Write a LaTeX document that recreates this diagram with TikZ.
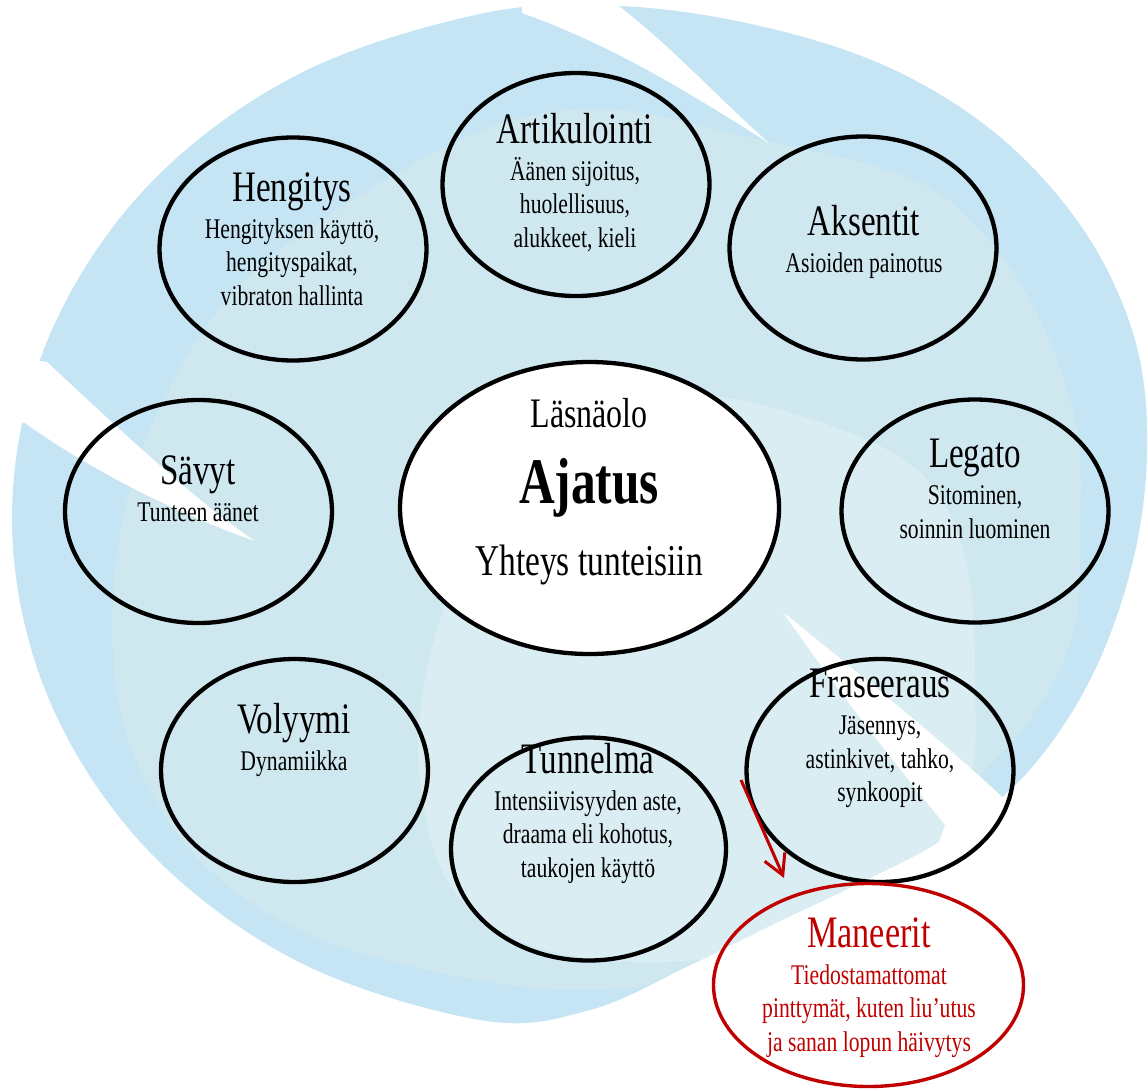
\documentclass[tikz,border=0pt]{standalone}
\usepackage{fontspec}
\setmainfont{Liberation Serif}[FakeStretch=0.76]
\usetikzlibrary{shapes.geometric,arrows.meta}
\definecolor{outerblue}{RGB}{197,228,244}
\definecolor{innerblue}{RGB}{207,232,240}
\definecolor{lightblue}{RGB}{218,237,243}
\definecolor{manred}{RGB}{192,0,0}
\newcommand\bubtitle[1]{{\fontsize{43.5}{33.5}\selectfont #1}\\[3.5pt]}
\begin{document}
\begin{tikzpicture}[x=1pt,y=-1pt,
  bubble/.style={ellipse,draw=black,line width=4.3pt,inner sep=0pt,
    minimum width=267,minimum height=223},
  txt/.style={align=center,inner sep=0pt,anchor=north,
    font=\fontsize{28.5}{33.5}\selectfont},
  slash/.style={fill=white,draw=none}]
\useasboundingbox (0,0) rectangle (1148,1090);

% background swirl
\fill[outerblue] plot[smooth cycle,tension=0.6] coordinates {
 (620,6) (760,26) (890,68) (1000,137) (1085,232) (1135,340) (1147,450)
 (1132,565) (1090,680) (1025,775) (945,838) (855,885) (765,928) (690,965)
 (590,1010) (480,1020) (295,960) (144,846) (46,692) (12,518) (46,344)
 (144,190) (295,76) (480,14)};
\begin{scope}
\clip plot[smooth cycle,tension=0.6] coordinates {
 (620,6) (760,26) (890,68) (1000,137) (1085,232) (1135,340) (1147,450)
 (1132,565) (1090,680) (1025,775) (945,838) (855,885) (765,928) (690,965)
 (590,1010) (480,1020) (295,960) (144,846) (46,692) (12,518) (46,344)
 (144,190) (295,76) (480,14)};
\fill[innerblue] plot[smooth cycle,tension=0.6] coordinates {
 (620,110) (753,138) (887,170) (960,210) (1030,300) (1075,420) (1080,533)
 (1073,633) (1030,720) (967,790) (900,880) (750,960) (600,990) (450,975)
 (300,930) (190,850) (125,730) (113,600) (135,470) (185,360) (250,275)
 (345,205) (440,150) (520,118)};
\fill[lightblue] plot[smooth cycle,tension=0.6] coordinates {
 (560,415) (650,398) (740,400) (867,440) (933,487) (967,567) (975,680)
 (967,790) (900,880) (780,945) (650,962) (530,945) (450,885) (420,780)
 (425,680) (460,560) (500,470)};
\end{scope}
% white slashes
\fill[slash] (522,13) .. controls (620,48) and (700,100) .. (769,143)
  .. controls (715,95) and (670,45) .. (615,3) -- (522,3) -- cycle;
\fill[slash] (47,362) .. controls (120,430) and (200,505) .. (255,541)
  .. controls (180,515) and (90,470) .. (25,423) -- (0,420) -- (0,355) -- cycle;
\fill[slash] (783,612) .. controls (860,675) and (930,730) .. (1000,795)
  -- (1100,900) -- (900,950) -- (945,825)
  .. controls (880,745) and (830,680) .. cycle;

% nodes
\node[bubble] (heng) at (293,249) {};
\node[bubble] (art) at (576,184.5) {};
\node[bubble] (aks) at (863,248) {};
\node[bubble] (sav) at (198.5,511.5) {};
\node[bubble] (leg) at (975,511) {};
\node[bubble] (vol) at (294.5,770.5) {};
\node[bubble,minimum width=275] (tun) at (588.5,849) {};
\node[bubble] (fra) at (880,770.5) {};
\node[ellipse,draw=black,fill=white,line width=4.3pt,inner sep=0pt,
  minimum width=379,minimum height=292] (mid) at (589.5,508) {};
\node[ellipse,draw=manred,line width=3.4pt,inner sep=0pt,
  minimum width=310,minimum height=203] (man) at (868.5,985) {};

\node[txt] (hengT) at (292,172) {\bubtitle{Hengitys}Hengityksen käyttö,\\hengityspaikat,\\vibraton hallinta};
\node[txt] (artT) at (575,113) {\bubtitle{Artikulointi}Äänen sijoitus,\\huolellisuus,\\alukkeet, kieli};
\node[txt] (aksT) at (864,205) {\bubtitle{Aksentit}Asioiden painotus};
\node[txt] (savT) at (198,455) {\bubtitle{Sävyt}Tunteen äänet};
\node[txt] (legT) at (975,439) {\bubtitle{Legato}Sitominen,\\soinnin luominen};
\node[txt] (volT) at (294,703) {\bubtitle{Volyymi}Dynamiikka};
\node[txt] (tunT) at (588,743) {\bubtitle{Tunnelma}Intensiivisyyden aste,\\draama eli kohotus,\\taukojen käyttö};
\node[txt] (fraT) at (880,669) {\bubtitle{Fraseeraus}Jäsennys,\\astinkivet, tahko,\\synkoopit};
\node[txt,text=manred] (manT) at (869,917) {{\fontsize{45}{33.5}\selectfont Maneerit}\\[3.5pt]Tiedostamattomat\\pinttymät, kuten liu’utus\\ja sanan lopun häivytys};
\node[align=center,inner sep=0pt,anchor=north,font=\fontsize{44}{76}\selectfont]
  (midT) at (589,398) {{\fontsize{42}{76}\selectfont Läsnäolo}\\{\fontsize{65}{76}\selectfont\bfseries Ajatus}\\[-4pt]Yhteys tunteisiin};

% arrow
\coordinate (arrS) at (741,780);
\coordinate (arrE) at (784,878);
\draw[manred,line width=3pt,-{Straight Barb[length=20pt,width=22pt]}] (arrS) -- (arrE);
\end{tikzpicture}
\end{document}
